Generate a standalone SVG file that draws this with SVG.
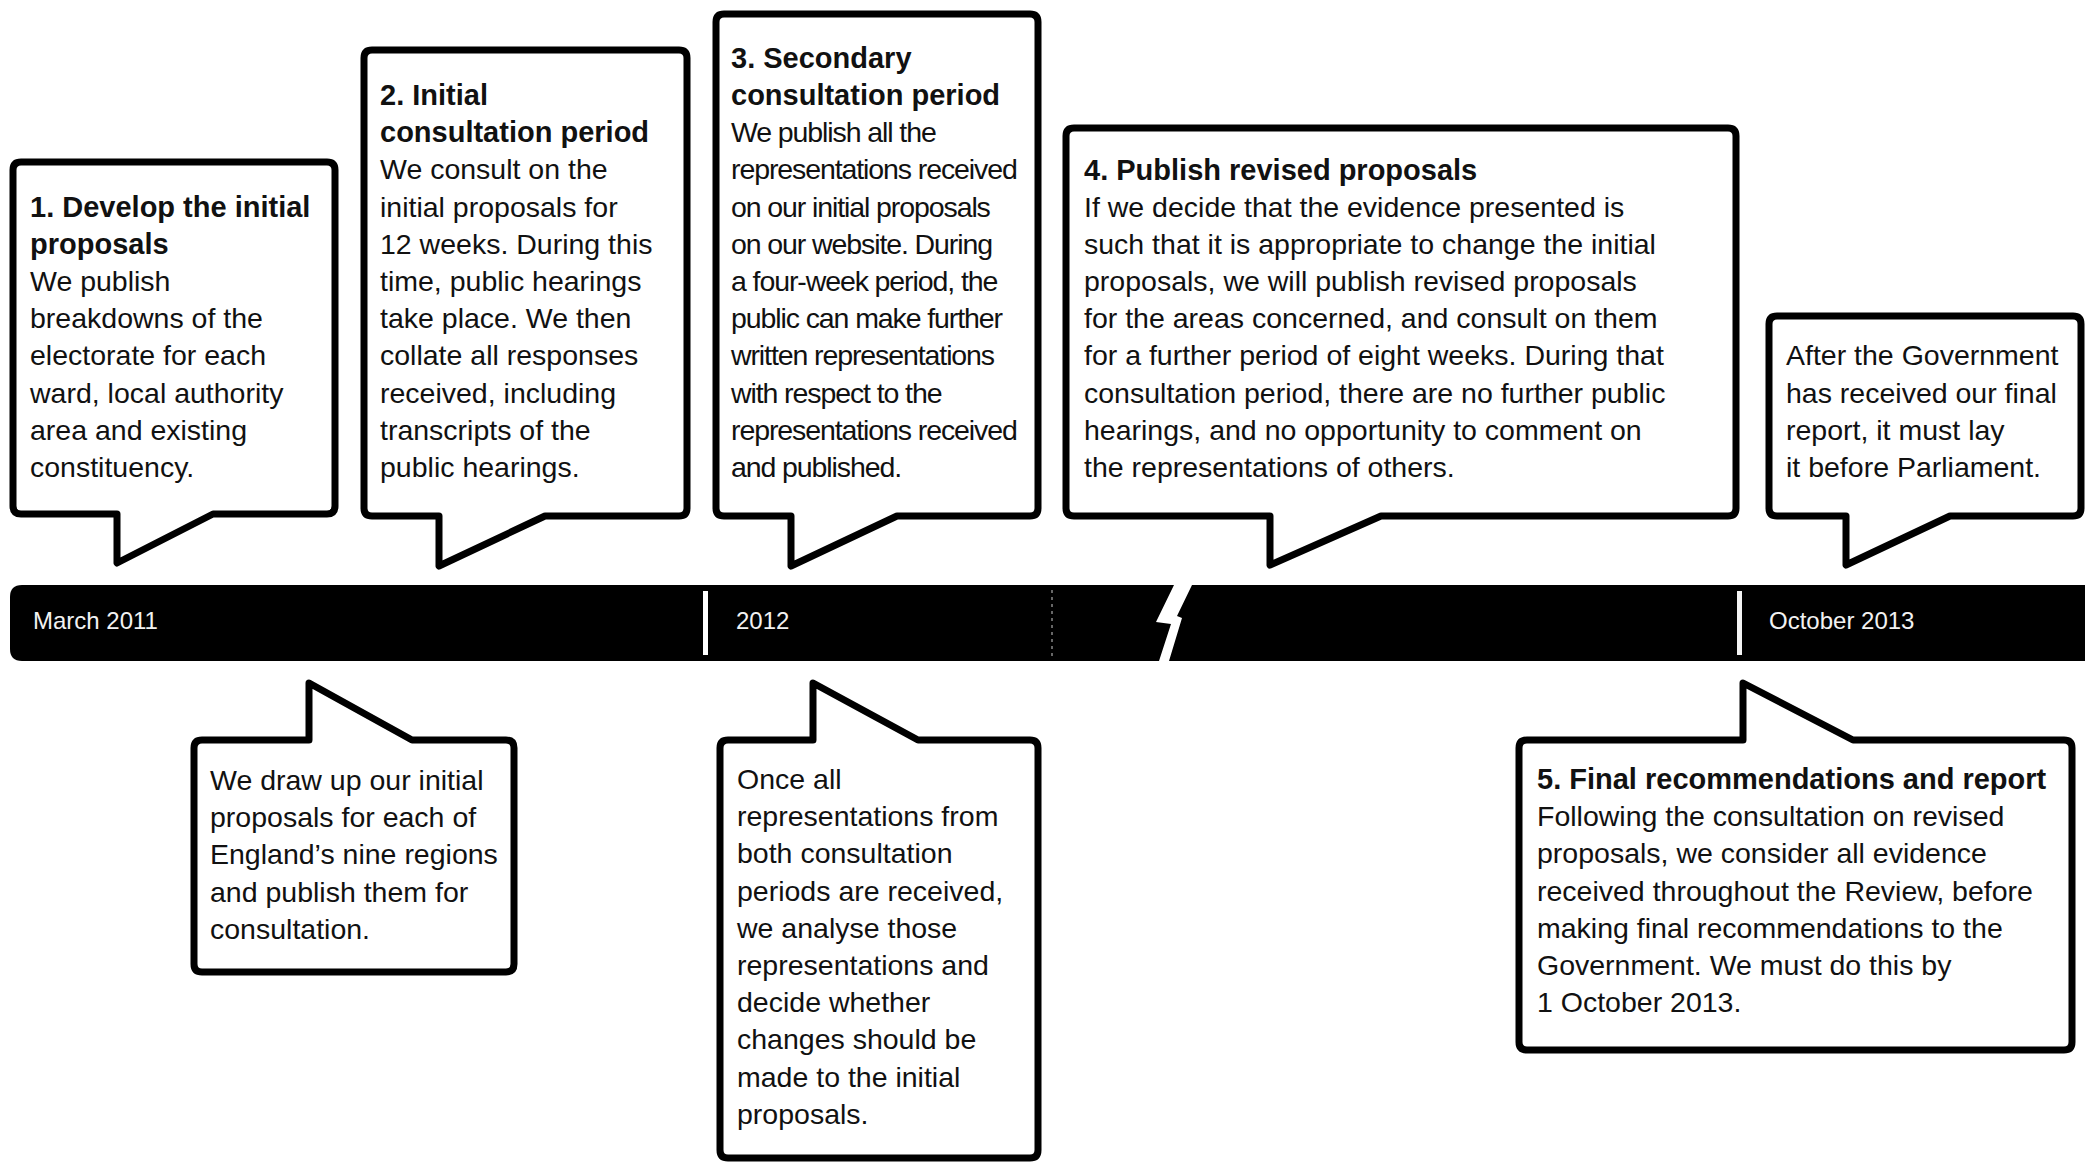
<svg xmlns="http://www.w3.org/2000/svg" width="2085" height="1164" viewBox="0 0 2085 1164">
<style>
.bubble{fill:#fff;stroke:#000;stroke-width:7;stroke-linejoin:round}
.t{font-family:"Liberation Sans",Arial,Helvetica,sans-serif;font-size:28.5px;fill:#111}
.b{font-weight:bold;font-size:29px}
.lab{font-family:"Liberation Sans",Arial,Helvetica,sans-serif;font-size:24px;fill:#f2f2f2}
</style>
<rect width="2085" height="1164" fill="#fff"/>
<g id="timeline">
<path d="M22,585 H2085 V661 H22 Q10,661 10,649 V597 Q10,585 22,585 Z" fill="#000"/>
<rect x="703" y="591" width="5" height="64" fill="#fff"/>
<rect x="1737" y="591" width="5" height="64" fill="#f4f4f4"/>
<line x1="1052" y1="590" x2="1052" y2="656" stroke="#888" stroke-width="1.5" stroke-dasharray="3 4"/>
<polygon points="1174,585 1192,585 1177,616 1182,618 1169,661 1159,661 1171,624 1156,622" fill="#fff"/>
<text class="lab" x="33" y="629">March 2011</text>
<text class="lab" x="736" y="629">2012</text>
<text class="lab" x="1769" y="629">October 2013</text>
</g>
<g id="connectors"></g>
<g id="node1">
<path class="bubble" d="M21,162 H327 Q335,162 335,170 V506 Q335,514 327,514 H213 L117,563 V514 H21 Q13,514 13,506 V170 Q13,162 21,162 Z"/>
<text class="t"><tspan class="b" x="30" y="216.6">1. Develop the initial</tspan><tspan class="b" x="30" y="253.8">proposals</tspan><tspan x="30" y="291">We publish</tspan><tspan x="30" y="328.2">breakdowns of the</tspan><tspan x="30" y="365.4">electorate for each</tspan><tspan x="30" y="402.6">ward, local authority</tspan><tspan x="30" y="439.8">area and existing</tspan><tspan x="30" y="477">constituency.</tspan></text>
</g>
<g id="node2">
<path class="bubble" d="M372,50 H679 Q687,50 687,58 V508 Q687,516 679,516 H545 L439,566 V516 H372 Q364,516 364,508 V58 Q364,50 372,50 Z"/>
<text class="t"><tspan class="b" x="380" y="105">2. Initial</tspan><tspan class="b" x="380" y="142.2">consultation period</tspan><tspan x="380" y="179.4">We consult on the</tspan><tspan x="380" y="216.6">initial proposals for</tspan><tspan x="380" y="253.8">12 weeks. During this</tspan><tspan x="380" y="291">time, public hearings</tspan><tspan x="380" y="328.2">take place. We then</tspan><tspan x="380" y="365.4">collate all responses</tspan><tspan x="380" y="402.6">received, including</tspan><tspan x="380" y="439.8">transcripts of the</tspan><tspan x="380" y="477">public hearings.</tspan></text>
</g>
<g id="node3">
<path class="bubble" d="M724,14 H1030 Q1038,14 1038,22 V508 Q1038,516 1030,516 H897 L791,566 V516 H724 Q716,516 716,508 V22 Q716,14 724,14 Z"/>
<text class="t"><tspan class="b" x="731" y="67.8">3. Secondary</tspan><tspan class="b" x="731" y="105">consultation period</tspan></text>
<text class="t" letter-spacing="-1.1"><tspan x="731" y="142.2">We publish all the</tspan><tspan x="731" y="179.4">representations received</tspan><tspan x="731" y="216.6">on our initial proposals</tspan><tspan x="731" y="253.8">on our website. During</tspan><tspan x="731" y="291">a four-week period, the</tspan><tspan x="731" y="328.2">public can make further</tspan><tspan x="731" y="365.4">written representations</tspan><tspan x="731" y="402.6">with respect to the</tspan><tspan x="731" y="439.8">representations received</tspan><tspan x="731" y="477">and published.</tspan></text>
</g>
<g id="node4">
<path class="bubble" d="M1074,128 H1728 Q1736,128 1736,136 V508 Q1736,516 1728,516 H1381 L1270,565 V516 H1074 Q1066,516 1066,508 V136 Q1066,128 1074,128 Z"/>
<text class="t"><tspan class="b" x="1084" y="180.4">4. Publish revised proposals</tspan><tspan x="1084" y="216.6">If we decide that the evidence presented is</tspan><tspan x="1084" y="253.8">such that it is appropriate to change the initial</tspan><tspan x="1084" y="291">proposals, we will publish revised proposals</tspan><tspan x="1084" y="328.2">for the areas concerned, and consult on them</tspan><tspan x="1084" y="365.4">for a further period of eight weeks. During that</tspan><tspan x="1084" y="402.6">consultation period, there are no further public</tspan><tspan x="1084" y="439.8">hearings, and no opportunity to comment on</tspan><tspan x="1084" y="477">the representations of others.</tspan></text>
</g>
<g id="node6">
<path class="bubble" d="M1777,316 H2073 Q2081,316 2081,324 V508 Q2081,516 2073,516 H1950 L1846,565 V516 H1777 Q1769,516 1769,508 V324 Q1769,316 1777,316 Z"/>
<text class="t"><tspan x="1786" y="365.4">After the Government</tspan><tspan x="1786" y="402.6">has received our final</tspan><tspan x="1786" y="439.8">report, it must lay</tspan><tspan x="1786" y="477">it before Parliament.</tspan></text>
</g>
<g id="node7">
<path class="bubble" d="M202,740 H309 V683 L412,740 H506 Q514,740 514,748 V964 Q514,972 506,972 H202 Q194,972 194,964 V748 Q194,740 202,740 Z"/>
<text class="t"><tspan x="210" y="790">We draw up our initial</tspan><tspan x="210" y="827.2">proposals for each of</tspan><tspan x="210" y="864.4">England’s nine regions</tspan><tspan x="210" y="901.6">and publish them for</tspan><tspan x="210" y="938.8">consultation.</tspan></text>
</g>
<g id="node8">
<path class="bubble" d="M728,740 H813 V683 L918,740 H1030 Q1038,740 1038,748 V1150 Q1038,1158 1030,1158 H728 Q720,1158 720,1150 V748 Q720,740 728,740 Z"/>
<text class="t"><tspan x="737" y="789">Once all</tspan><tspan x="737" y="826.2">representations from</tspan><tspan x="737" y="863.4">both consultation</tspan><tspan x="737" y="900.6">periods are received,</tspan><tspan x="737" y="937.8">we analyse those</tspan><tspan x="737" y="975">representations and</tspan><tspan x="737" y="1012.2">decide whether</tspan><tspan x="737" y="1049.4">changes should be</tspan><tspan x="737" y="1086.6">made to the initial</tspan><tspan x="737" y="1123.8">proposals.</tspan></text>
</g>
<g id="node5">
<path class="bubble" d="M1527,740 H1743 V683 L1853,740 H2064 Q2072,740 2072,748 V1042 Q2072,1050 2064,1050 H1527 Q1519,1050 1519,1042 V748 Q1519,740 1527,740 Z"/>
<text class="t"><tspan class="b" x="1537" y="789">5. Final recommendations and report</tspan><tspan x="1537" y="826.2">Following the consultation on revised</tspan><tspan x="1537" y="863.4">proposals, we consider all evidence</tspan><tspan x="1537" y="900.6">received throughout the Review, before</tspan><tspan x="1537" y="937.8">making final recommendations to the</tspan><tspan x="1537" y="975">Government. We must do this by</tspan><tspan x="1537" y="1012.2">1 October 2013.</tspan></text>
</g>
</svg>
